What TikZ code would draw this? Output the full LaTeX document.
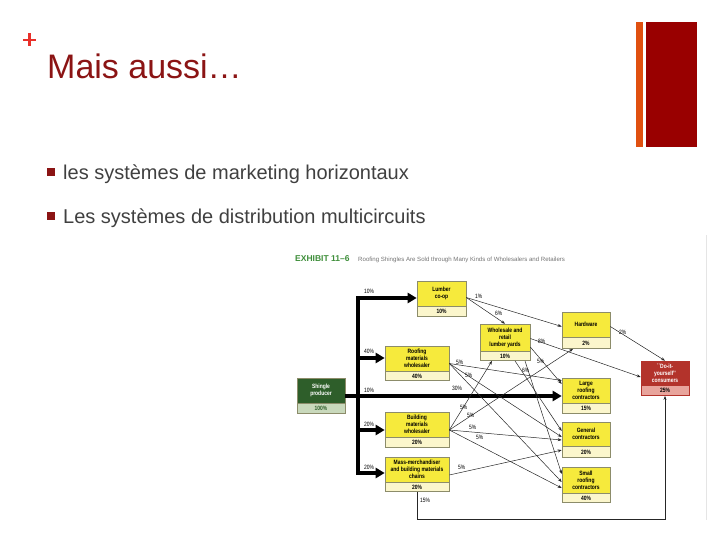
\documentclass[tikz,border=0pt]{standalone}
\usepackage{fontspec}
\setmainfont{Liberation Sans}
\newfontfamily\nfont[FakeStretch=0.8]{Liberation Sans}
\usetikzlibrary{arrows.meta}
\definecolor{titlered}{HTML}{8B1414}
\definecolor{plusred}{HTML}{E8302A}
\definecolor{barorange}{HTML}{E05010}
\definecolor{bardark}{HTML}{990000}
\definecolor{bodygray}{HTML}{404040}
\definecolor{ybox}{HTML}{F6EA3C}
\definecolor{ylight}{HTML}{FBF6CC}
\definecolor{boxline}{HTML}{8C8C6A}
\definecolor{gdark}{HTML}{2E5E2A}
\definecolor{glight}{HTML}{C9D9BC}
\definecolor{rdark}{HTML}{B3332B}
\definecolor{rlight}{HTML}{E8A49C}
\definecolor{exgreen}{HTML}{3E8E3A}
\begin{document}
\begin{tikzpicture}[x=1pt,y=-1pt,
  boxtxt/.style={font=\nfont\bfseries\fontsize{6.2}{7}\selectfont, align=center, inner sep=0pt},
  ytop/.style={boxtxt, draw=boxline, fill=ybox, line width=0.6pt},
  ybot/.style={boxtxt, draw=boxline, fill=ylight, line width=0.6pt},
  gtop/.style={boxtxt, draw=boxline, fill=gdark, text=white, line width=0.6pt},
  gbot/.style={boxtxt, draw=boxline, fill=glight, text=gdark, line width=0.6pt},
  rtop/.style={boxtxt, draw=rdark, fill=rdark, text=white, line width=0.6pt},
  rbot/.style={boxtxt, draw=rdark, fill=rlight, text=black, line width=0.6pt},
  thk/.style={line width=4.5pt, black},
  thkhead/.style={-{Triangle[length=9pt,width=10pt]}},
  thn/.style={line width=0.5pt, black!85, -{Stealth[length=4pt,width=3pt]}},
  pct/.style={font=\nfont\fontsize{6.2}{7}\selectfont, inner sep=0pt}
]
\useasboundingbox (0,0) rectangle (720,540);
% slide decoration
\draw[plusred, line width=2.6pt] (23,40) -- (36,40) (29.5,33.5) -- (29.5,46.5);
\node[anchor=base west, text=titlered, font=\fontsize{34}{40}\selectfont, inner sep=0pt] (title) at (47,79) {Mais aussi…};
\fill[barorange] (636,22) rectangle (643,147);
\fill[bardark] (646,22) rectangle (697,147);
\fill[titlered] (47,168) rectangle (55,176);
\node[anchor=base west, text=bodygray, font=\fontsize{20}{24}\selectfont, inner sep=0pt] (b1) at (63,180) {les systèmes de marketing horizontaux};
\fill[titlered] (47,212) rectangle (55,220);
\node[anchor=base west, text=bodygray, font=\fontsize{20}{24}\selectfont, inner sep=0pt] (b2) at (63,224) {Les systèmes de distribution multicircuits};
\draw[black!10, line width=0.8pt] (706,235) -- (706,520);
% exhibit header
\node[anchor=base west, text=exgreen, font=\bfseries\fontsize{8.5}{10}\selectfont, inner sep=0pt] (ex) at (295,261) {EXHIBIT 11--6};
\node[anchor=base west, text=black!55, font=\fontsize{6.1}{7}\selectfont, inner sep=0pt] (cap) at (358,261) {Roofing Shingles Are Sold through Many Kinds of Wholesalers and Retailers};
% boxes
\node[ytop, minimum width=49, minimum height=25] (lc) at (441.5,293.5) {Lumber\\co-op};
\node[ybot, minimum width=49, minimum height=10, anchor=north] (lcb) at (lc.south) {10\%};
\node[ytop, minimum width=50, minimum height=27] (wr) at (505,337.5) {Wholesale and\\retail\\lumber yards};
\node[ybot, minimum width=50, minimum height=9, anchor=north] (wrb) at (wr.south) {10\%};
\node[ytop, minimum width=64, minimum height=25] (rw) at (417,358.5) {Roofing\\materials\\wholesaler};
\node[ybot, minimum width=64, minimum height=9, anchor=north] (rwb) at (rw.south) {40\%};
\node[ytop, minimum width=64, minimum height=25] (bw) at (417,424.5) {Building\\materials\\wholesaler};
\node[ybot, minimum width=64, minimum height=10, anchor=north] (bwb) at (bw.south) {20\%};
\node[ytop, minimum width=64, minimum height=25] (mm) at (417,469.5) {Mass-merchandiser\\and building materials\\chains};
\node[ybot, minimum width=64, minimum height=9, anchor=north] (mmb) at (mm.south) {20\%};
\node[gtop, minimum width=48, minimum height=25] (sp) at (321,390.5) {Shingle\\producer};
\node[gbot, minimum width=48, minimum height=10, anchor=north] (spb) at (sp.south) {100\%};
\node[ytop, minimum width=48, minimum height=25] (hw) at (586,324.5) {Hardware};
\node[ybot, minimum width=48, minimum height=11, anchor=north] (hwb) at (hw.south) {2\%};
\node[ytop, minimum width=48, minimum height=25] (lr) at (586,390.5) {Large\\roofing\\contractors};
\node[ybot, minimum width=48, minimum height=10, anchor=north] (lrb) at (lr.south) {15\%};
\node[ytop, minimum width=48, minimum height=24] (gc) at (586,434) {General\\contractors};
\node[ybot, minimum width=48, minimum height=11, anchor=north] (gcb) at (gc.south) {20\%};
\node[ytop, minimum width=48, minimum height=26] (sr) at (586,480) {Small\\roofing\\contractors};
\node[ybot, minimum width=48, minimum height=9, anchor=north] (srb) at (sr.south) {40\%};
\node[rtop, minimum width=48, minimum height=24] (diy) at (665,373) {``Do-it-\\yourself''\\consumers};
\node[rbot, minimum width=48, minimum height=10, anchor=north] (diyb) at (diy.south) {25\%};
% thick flows
\coordinate (j1) at (358,298);
\coordinate (j2) at (358,358);
\coordinate (j3) at (358,396);
\coordinate (j4) at (358,430);
\coordinate (j5) at (358,473);
\draw[thk, {Triangle[length=9pt,width=10pt]}-{Triangle[length=9pt,width=10pt]}] (j1 -| lc.west) -- (j1) -- (j5) -- (j5 -| mm.west);
\draw[thk, thkhead] (j2) -- (j2 -| rw.west);
\draw[thk, thkhead] (j4) -- (j4 -| bw.west);
\draw[thk, thkhead] (sp.east |- j3) -- (j3 -| lr.west);
\node[pct, anchor=base west] (p1) at (364,293) {10\%};
\node[pct, anchor=base west] (p2) at (364,353) {40\%};
\node[pct, anchor=base west] (p3) at (364,392) {10\%};
\node[pct, anchor=base west] (p4) at (364,426) {20\%};
\node[pct, anchor=base west] (p5) at (364,469) {20\%};
% thin flows
\draw[thn] ([yshift=-4pt]lc.east) -- ([yshift=-2pt]hw.west);
\draw[thn] ([yshift=-4pt]lc.east) -- (wr.north);
\draw[thn] ([yshift=-1pt]wr.east) -- ([yshift=-4pt]diy.west);
\draw[thn] ([yshift=-9.5pt]wr.east) -- ([yshift=6.5pt]lr.west);
\draw[thn] ([xshift=10pt]wrb.south) -- ([yshift=3pt]gc.west);
\draw[thn] ([xshift=20pt]wrb.south) -- ([yshift=6pt]sr.west);
\draw[thn] ([yshift=-2pt]hw.east) -- (diy.north);
\draw[thn] ([yshift=-5pt]rw.east) -- ([yshift=10pt]lr.west);
\draw[thn] ([yshift=-5pt]rw.east) -- ([yshift=-3pt]gc.west);
\draw[thn] ([yshift=-5pt]rw.east) -- ([yshift=-2pt]sr.west);
\draw[thn] ([yshift=-5.5pt]bw.east) -- ([xshift=-13pt]wrb.south);
\draw[thn] ([yshift=-5.5pt]bw.east) -- ([xshift=-13pt]hwb.south);
\draw[thn] ([yshift=-5.5pt]bw.east) -- ([yshift=-6pt]gc.west);
\draw[thn] ([yshift=-5.5pt]bw.east) -- ([yshift=-8pt]sr.west);
\draw[thn] ([yshift=-5.5pt]mm.east) -- ([yshift=2pt]gcb.west);
\draw[thn] (mmb.south) -- ++(0,27) -| (diyb.south);
\node[pct, anchor=base west] (q1) at (475,298) {1\%};
\node[pct, anchor=base west] (q2) at (495,315) {6\%};
\node[pct, anchor=base west] (q3) at (538,343) {8\%};
\node[pct, anchor=base west] (q4) at (537,363) {5\%};
\node[pct, anchor=base west] (q5) at (522,372) {6\%};
\node[pct, anchor=base west] (q6) at (619,334) {2\%};
\node[pct, anchor=base west] (q7) at (456,364) {5\%};
\node[pct, anchor=base west] (q8) at (465,377) {5\%};
\node[pct, anchor=base west] (q9) at (452,390) {30\%};
\node[pct, anchor=base west] (q10) at (460,409) {5\%};
\node[pct, anchor=base west] (q11) at (467,417) {5\%};
\node[pct, anchor=base west] (q12) at (469,429) {5\%};
\node[pct, anchor=base west] (q13) at (476,439) {5\%};
\node[pct, anchor=base west] (q14) at (458,469) {5\%};
\node[pct, anchor=base west] (q15) at (420,502) {15\%};
\end{tikzpicture}
\end{document}
